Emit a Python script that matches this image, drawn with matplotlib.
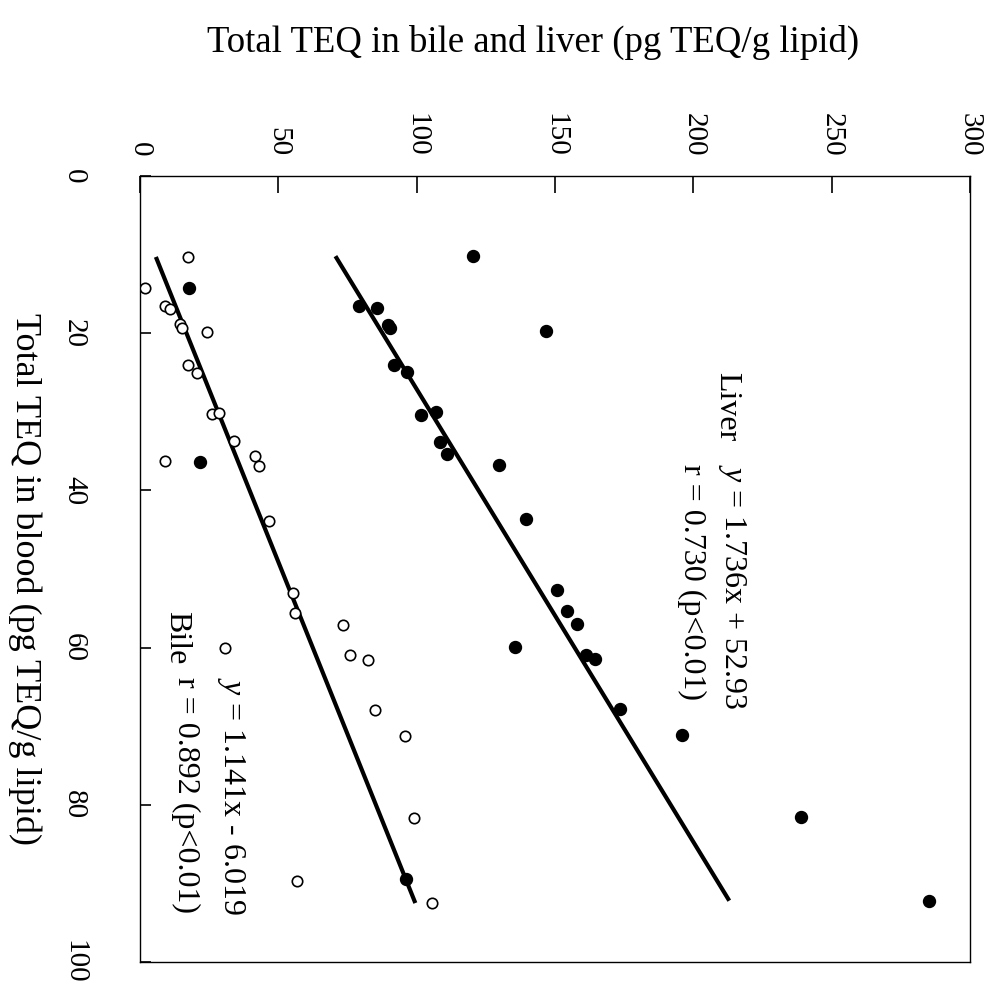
import matplotlib
matplotlib.use('Agg')
import matplotlib.pyplot as plt
import numpy as np

plt.rcParams['font.family'] = ['Liberation Serif', 'DejaVu Serif']
plt.rcParams['mathtext.fontset'] = 'custom'
plt.rcParams['mathtext.rm'] = 'Liberation Serif'
plt.rcParams['mathtext.it'] = 'Liberation Serif:italic'

# ---- data (blood TEQ = x, bile/liver TEQ = y) ----
liver_blood = [10.2, 16.6, 16.8, 18.9, 19.4, 19.7, 24.0, 24.9, 30.4, 30.0, 33.8, 35.4,
               36.8, 43.6, 52.7, 55.4, 57.0, 59.9, 60.9, 61.5, 67.8, 71.1, 81.6, 92.2,
               14.2, 36.4, 89.4]
liver_teq = [120.3, 79.3, 85.7, 89.8, 90.5, 146.9, 91.9, 96.5, 101.4, 107.1, 108.6, 111.0,
             129.7, 139.4, 150.8, 154.5, 158.0, 135.4, 161.2, 164.4, 173.5, 196.0, 238.8, 285.3,
             17.7, 21.8, 96.2]

bile_blood = [10.3, 14.2, 16.5, 16.9, 18.8, 19.3, 19.8, 24.0, 25.0, 30.3, 30.1, 33.7,
              36.3, 35.6, 36.9, 43.9, 53.0, 55.6, 57.1, 60.9, 61.6, 68.0, 71.3, 81.7,
              89.7, 92.5, 60.0]
bile_teq = [17.4, 1.8, 9.1, 10.8, 14.6, 15.2, 24.1, 17.4, 20.5, 26.1, 28.6, 34.0,
            9.0, 41.7, 43.0, 46.8, 55.3, 56.2, 73.5, 76.0, 82.4, 85.1, 95.8, 98.9,
            56.8, 105.6, 30.6]

liver_slope, liver_intercept = 1.736, 52.93
bile_slope, bile_intercept = 1.141, -6.019

teq_ticks = [0, 50, 100, 150, 200, 250, 300]
blood_ticks = [0, 20, 40, 60, 80, 100]

teq_label = 'Total TEQ in bile and liver (pg TEQ/g lipid)'
blood_label = 'Total TEQ in blood (pg TEQ/g lipid)'

# ---- figure (page rotated 90 deg clockwise) ----
fig = plt.figure(figsize=(9.86, 10.02), dpi=100)
L, R, T, B = 140, 970, 176, 962
ax = fig.add_axes([L/986, 1 - B/1002, (R - L)/986, (B - T)/1002])
ax.set_xlim(0, 300)
ax.set_ylim(100, 0)

ax.plot(liver_teq, liver_blood, 'o', color='black', ms=8.6, mec='black', zorder=3)
ax.plot(bile_teq, bile_blood, 'o', mfc='white', mec='black', ms=7.5, mew=1.2, zorder=3)

for slope, icpt, xs in [(liver_slope, liver_intercept, liver_blood),
                        (bile_slope, bile_intercept, bile_blood)]:
    bx = np.array([min(xs), max(xs)])
    ax.plot(slope * bx + icpt, bx, color='black', lw=3, solid_capstyle='butt', zorder=2)

ax.xaxis.tick_top()
ax.set_xticks(teq_ticks)
ax.set_yticks(blood_ticks)
ax.tick_params(axis='x', direction='in', length=12, width=1.2, pad=14, labelsize=21,
               labelrotation=-90)
ax.tick_params(axis='y', direction='in', length=8, width=1.2, pad=38, labelsize=21,
               labelrotation=-90)
for lbl in ax.get_yticklabels():
    lbl.set_va('center')
for s in ax.spines.values():
    s.set_linewidth(1.0)

ax.xaxis.set_label_position('top')
ax.set_xlabel(teq_label, fontsize=26.5)
ax.xaxis.set_label_coords((533 - L)/(R - L), (B - 42)/(B - T))
ax.xaxis.label.set_va('center')

ax.set_ylabel(blood_label, fontsize=26, rotation=-90)
ax.yaxis.set_label_coords((25 - L)/(R - L), (B - 579)/(B - T))
ax.yaxis.label.set_va('center')
ax.yaxis.label.set_ha('center')

tkw = dict(rotation=-90, rotation_mode='anchor', ha='left', va='center', fontsize=23)
ax.text(212.0, 25.0, 'Liver', **tkw)
ax.text(214.0, 36.6, r'$y$ = 1.736x + 52.93', **tkw)
ax.text(199.5, 36.6, 'r = 0.730 (p<0.01)', **tkw)
ax.text(13.2, 55.4, 'Bile', **tkw)
ax.text(33.0, 63.8, r'$y$ = 1.141x - 6.019', **tkw)
ax.text(16.4, 63.8, 'r = 0.892 (p<0.01)', **tkw)

fig.savefig('out.png', dpi=100)
